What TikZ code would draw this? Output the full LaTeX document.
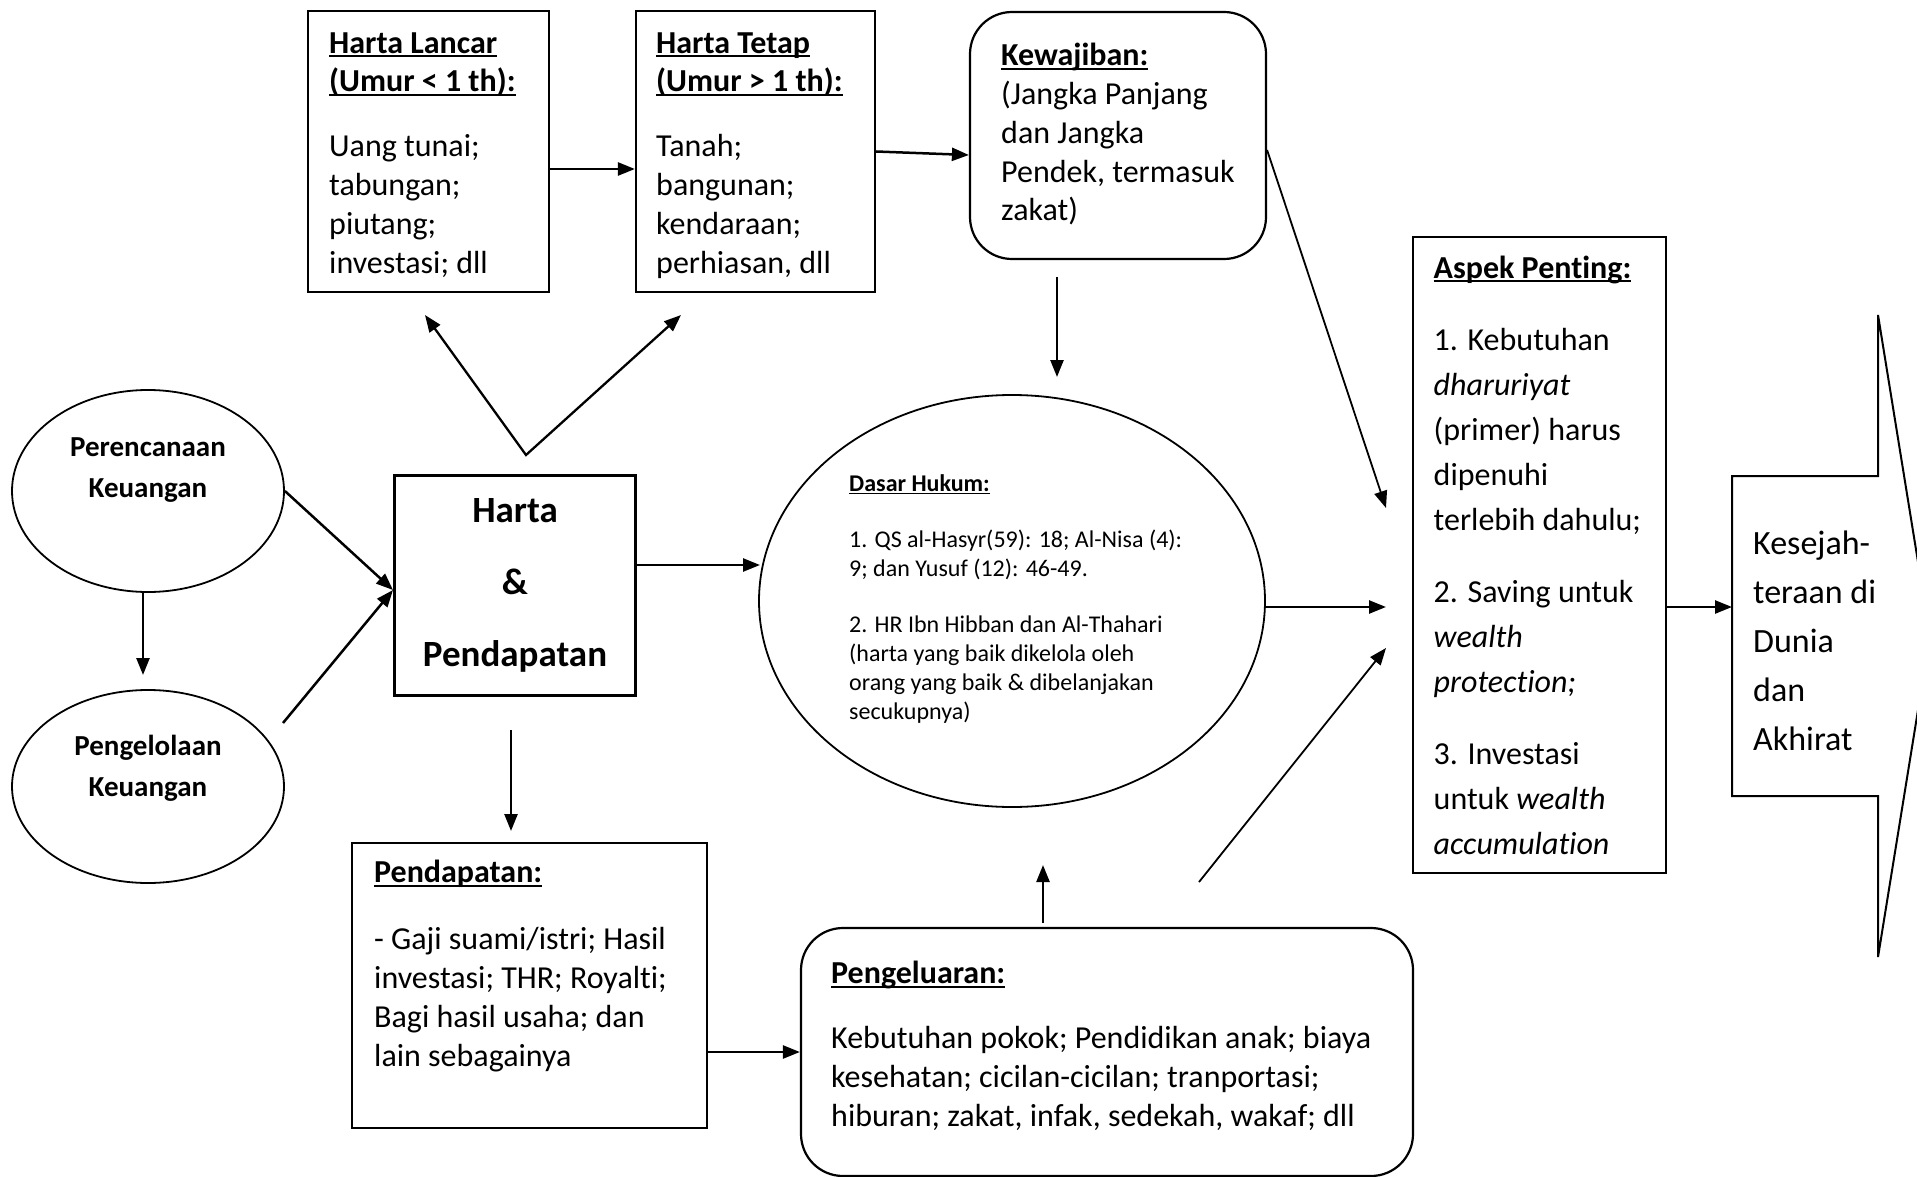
\documentclass[tikz,border=0pt]{standalone}
\usepackage{fontspec}
\setmainfont[Ligatures=NoCommon]{Carlito}
\usetikzlibrary{arrows.meta,calc,shapes.geometric}
\newsavebox\ulbox
\newcommand\ulx[1]{\sbox\ulbox{#1}\rlap{\rule[-0.14em]{\wd\ulbox}{0.065em}}\usebox\ulbox}
\begin{document}
\begin{tikzpicture}[x=1pt,y=-1pt,
  box/.style={draw,line width=2.2pt,rectangle,inner sep=0pt},
  rbox/.style={box,rounded corners=42pt},
  oval/.style={draw,line width=1.8pt,ellipse,inner sep=0pt},
  txt/.style={anchor=base west,align=left,inner sep=0pt,font=\fontsize{32}{38.8}\selectfont},
  ctxt/.style={anchor=base,align=center,inner sep=0pt},
  arr/.style={line width=2.5pt,-{Triangle[length=17pt,width=13pt]}},
  thinarr/.style={line width=1.8pt,-{Triangle[length=17pt,width=13pt]}},
  biarr/.style={line width=2.3pt,line join=miter,{Triangle[length=17pt,width=13pt]}-{Triangle[length=17pt,width=13pt]}},
]
\useasboundingbox (0,0) rectangle (1917,1177);
% boxes
\node[box,minimum width=241pt,minimum height=281pt] (hl) at (428.5,151.5) {};
\node[box,minimum width=239pt,minimum height=281pt] (ht) at (755.5,151.5) {};
\node[rbox,minimum width=296pt,minimum height=247pt] (kw) at (1118,135.5) {};
\node[box,minimum width=253pt,minimum height=636pt] (ap) at (1539.5,555) {};
\node[box,minimum width=241pt,minimum height=220pt] (hp) at (515,585.5) {};
\node[box,minimum width=355pt,minimum height=285pt] (pd) at (529.5,985.5) {};
\node[rbox,minimum width=612pt,minimum height=248pt] (pg) at (1107,1052) {};
\node[oval,minimum width=272pt,minimum height=202pt] (pr) at (148,491) {};
\node[oval,minimum width=272pt,minimum height=193pt] (pl) at (148,786.5) {};
\node[oval,minimum width=506pt,minimum height=412pt] (dh) at (1012,601) {};
% big block arrow
\draw[line width=2pt] (1732,476) -- (1878,476) -- (1878,315) -- (1930,636) -- (1878,957) -- (1878,796) -- (1732,796) -- cycle;
\coordinate (ksw) at (1732,607);
% texts (anchor = baseline of last line)
\node[txt] (thl) at (329,273) {\ulx{\textbf{Harta Lancar}}\\ \ulx{\textbf{(Umur < 1 th):}}\\[26pt] Uang tunai;\\ tabungan;\\ piutang;\\ investasi; dll};
\node[txt] (tht) at (656,273) {\ulx{\textbf{Harta Tetap}}\\ \ulx{\textbf{(Umur > 1 th):}}\\[26pt] Tanah;\\ bangunan;\\ kendaraan;\\ perhiasan, dll};
\node[txt] (tkw) at (1001,221) {\ulx{\textbf{Kewajiban:}}\\ (Jangka Panjang\\ dan Jangka\\ Pendek, termasuk\\ zakat)};
\node[txt,font=\fontsize{32}{45}\selectfont] (tap) at (1433.5,854) {\ulx{\textbf{Aspek Penting:}}\\[27pt] 1. Kebutuhan\\ \textit{dharuriyat}\\ (primer) harus\\ dipenuhi\\ terlebih dahulu;\\[27pt] 2. Saving untuk\\ \textit{wealth}\\ \textit{protection;}\\[27pt] 3. Investasi\\ untuk \textit{wealth}\\ \textit{accumulation}};
\node[txt,font=\fontsize{34}{48.8}\selectfont] (tks) at (1753,750) {Kesejah-\\ teraan di\\ Dunia\\ dan\\ Akhirat};
\node[txt] (tpd) at (374,1066) {\ulx{\textbf{Pendapatan:}}\\[28pt] - Gaji suami/istri; Hasil\\ investasi; THR; Royalti;\\ Bagi hasil usaha; dan\\ lain sebagainya};
\node[txt] (tpg) at (831,1126) {\ulx{\textbf{Pengeluaran:}}\\[26.5pt] Kebutuhan pokok; Pendidikan anak; biaya\\ kesehatan; cicilan-cicilan; tranportasi;\\ hiburan; zakat, infak, sedekah, wakaf; dll};
\node[txt,font=\fontsize{24}{29}\selectfont] (tdh) at (849,719.5) {\ulx{\textbf{Dasar Hukum:}}\\[27pt] 1. QS al-Hasyr(59): 18; Al-Nisa (4):\\ 9; dan Yusuf (12): 46-49.\\[27.5pt] 2. HR Ibn Hibban dan Al-Thahari\\ (harta yang baik dikelola oleh\\ orang yang baik \& dibelanjakan\\ secukupnya)};
\node[ctxt,font=\bfseries\fontsize{37}{72}\selectfont] (thp) at (515,666) {Harta\\ \&\\ Pendapatan};
\node[ctxt,font=\bfseries\fontsize{29}{41}\selectfont] (tpr) at (148,497) {Perencanaan\\ Keuangan};
\node[ctxt,font=\bfseries\fontsize{29}{41}\selectfont] (tpl) at (148,796) {Pengelolaan\\ Keuangan};
% free connector ends
\coordinate (vapex) at (526,455);
\coordinate (vl) at (425,315);
\coordinate (vr) at (681,315);
\coordinate (kwd) at (1057,277);
\coordinate (dht) at (1057,377);
\coordinate (apa) at (1386,508);
\coordinate (apb) at (1386,607);
\coordinate (pgd) at (1199,882);
\coordinate (apc) at (1386,648);
\coordinate (pgu) at (1043,923);
\coordinate (dhb) at (1043,865);
\coordinate (dhw) at (760,565);
\coordinate (hpd) at (511,730);
\coordinate (pdt) at (511,831);
\coordinate (pls) at (143,675);
\coordinate (hpl) at (393,590);
\coordinate (plo) at (283,723);
% connectors
\draw[arr] ($(hl.east)+(0,17.5)$) -- ($(ht.west)+(0,17.5)$);
\draw[arr] (ht.east) -- ($(kw.west)+(0,19.5)$);
\draw[biarr] (vl) -- (vapex) -- (vr);
\draw[arr] (kwd) -- (dht);
\draw[thinarr] ($(kw.east)+(0,14.5)$) -- (apa);
\draw[arr] (dh.east |- apb) -- (apb);
\draw[thinarr] (pgd) -- (apc);
\draw[arr] (pgu) -- (dhb);
\draw[arr] (hp.east |- dhw) -- (dhw);
\draw[arr] (hpd) -- (pdt);
\draw[arr] (pd.east |- pg.west) -- (pg.west);
\draw[arr] (ap.east |- ksw) -- (ksw);
\draw[arr] (pr.south -| pls) -- (pls);
\draw[arr] (pr.east) -- (hpl);
\draw[arr] (plo) -- (hpl);
\end{tikzpicture}
\end{document}
